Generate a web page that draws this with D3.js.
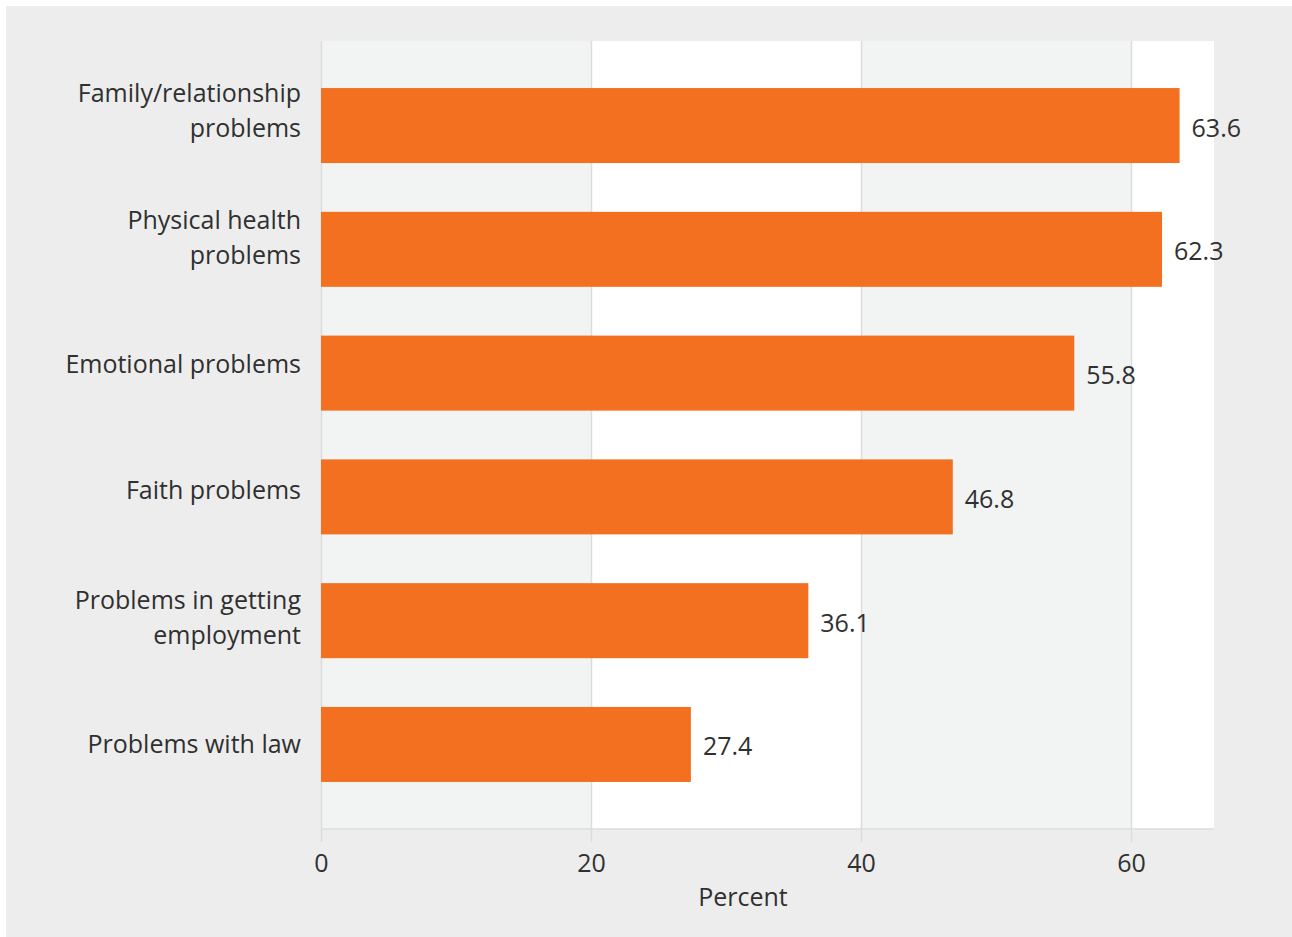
<!DOCTYPE html>
<html>
<head>
<meta charset="utf-8">
<script src="https://cdn.jsdelivr.net/npm/d3@7"></script>
<style>
  html, body { margin: 0; padding: 0; background: #ffffff; }
  svg { display: block; }
  text { font-family: "Open Sans", sans-serif; fill: #303030; }
</style>
</head>
<body>
<svg id="chart" width="1292" height="937"></svg>
<script>
// ---- data ----
const categories = [
  ["Family/relationship", "problems"],
  ["Physical health", "problems"],
  ["Emotional problems"],
  ["Faith problems"],
  ["Problems in getting", "employment"],
  ["Problems with law"]
];
const values = [63.6, 62.3, 55.8, 46.8, 36.1, 27.4];
const tickValues = [0, 20, 40, 60];
const axisTitle = "Percent";

// ---- layout ----
const W = 1292, H = 937;
const plot = { left: 321, right: 1214, top: 41, bottom: 829 };
const xMax = 66.15;
const barColor = "#f37021";

const svg = d3.select("#chart");
svg.append("rect").attr("x", 6).attr("y", 6).attr("width", W - 6).attr("height", H - 6).attr("fill", "#ededed");

const keys = categories.map(c => c.join(" "));
const x = d3.scaleLinear().domain([0, xMax]).range([plot.left, plot.right]);
const y = d3.scaleBand().domain(keys).range([plot.top, plot.bottom]).paddingInner(0.394).paddingOuter(0.38);
const yLabel = d3.scalePoint().domain(keys).range([119.5, 752.7]);

// alternating background bands
const bandEdges = tickValues.concat([xMax]);
const bands = d3.pairs(bandEdges);
svg.append("g").selectAll("rect").data(bands).join("rect")
  .attr("x", d => x(d[0]))
  .attr("y", plot.top)
  .attr("width", d => x(d[1]) - x(d[0]))
  .attr("height", plot.bottom - plot.top)
  .attr("fill", (d, i) => i % 2 === 0 ? "#f2f3f3" : "#ffffff");

// gridlines + ticks via axis
const axis = d3.axisBottom(x).tickValues(tickValues).tickSize(plot.bottom - plot.top + 13).tickPadding(12).tickFormat(d3.format("d"));
const gAxis = svg.append("g").attr("transform", `translate(0,${plot.top})`).call(axis);
gAxis.select(".domain").remove();
gAxis.selectAll(".tick line").attr("stroke", "#dcdcdc").attr("stroke-width", 1.5);
gAxis.selectAll(".tick text").attr("font-size", 25).attr("fill", "#303030").attr("font-family", "Open Sans, sans-serif");

// bottom axis line
svg.append("line").attr("x1", plot.left).attr("x2", plot.right).attr("y1", plot.bottom).attr("y2", plot.bottom)
  .attr("stroke", "#dcdcdc").attr("stroke-width", 1.5);

// bars
svg.append("g").selectAll("rect").data(values).join("rect")
  .attr("x", x(0))
  .attr("y", (d, i) => y(keys[i]))
  .attr("width", d => x(d) - x(0))
  .attr("height", y.bandwidth())
  .attr("fill", barColor);

// value labels
svg.append("g").selectAll("text").data(values).join("text")
  .attr("x", d => x(d) + 12)
  .attr("y", (d, i) => y(keys[i]) + y.bandwidth() / 2 + 11)
  .attr("font-size", 25)
  .text(d => d.toFixed(1));

// category labels
const lineH = 35;
const gLab = svg.append("g");
categories.forEach((lines, i) => {
  const c = yLabel(keys[i]);
  const y0 = c - (lines.length - 1) * lineH / 2;
  const t = gLab.append("text").attr("text-anchor", "end").attr("font-size", 25);
  lines.forEach((ln, j) => {
    t.append("tspan").attr("x", 301).attr("y", y0 + j * lineH).text(ln);
  });
});

// axis title
svg.append("text").attr("x", 743).attr("y", 906).attr("text-anchor", "middle").attr("font-size", 25).text(axisTitle);
</script>
</body>
</html>
